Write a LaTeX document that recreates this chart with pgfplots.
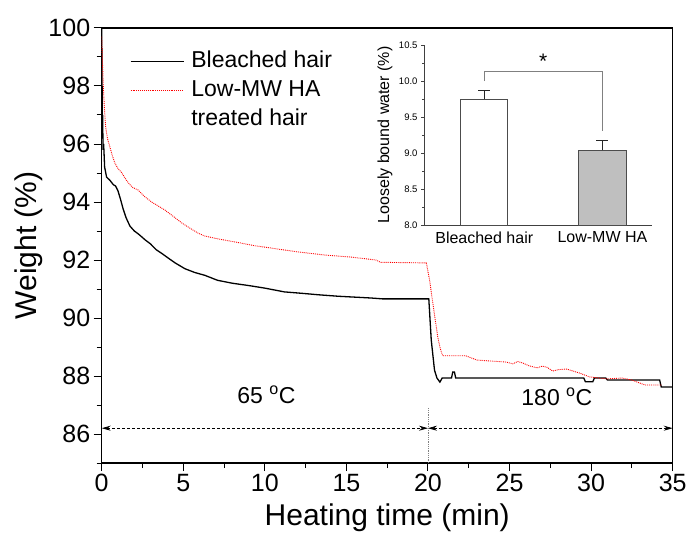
\documentclass[border=0pt]{standalone}
\usepackage{pgfplots}
\pgfplotsset{compat=1.18}
\usepackage{fontspec}
\setmainfont{Liberation Sans}
\usetikzlibrary{arrows.meta}

\begin{document}
\begin{tikzpicture}
\useasboundingbox (-101.7pt,-73pt) rectangle (585.3pt,463pt);
\begin{axis}[
 at={(0pt,0pt)}, anchor=south west,
 scale only axis, width=571pt, height=435pt,
 xmin=0, xmax=35, ymin=85, ymax=100,
 xtick={0,5,...,35}, ytick={86,88,...,100},
 minor xtick={2.5,7.5,...,32.5}, minor ytick={85,87,...,99},
 tick align=outside, xtick pos=lower, ytick pos=left,
 major tick length=8pt, minor tick length=5pt,
 every tick/.style={black, line width=1pt},
 axis line style={line width=1.2pt},
 /pgf/number format/assume math mode=true,
 tick label style={font=\fontsize{25}{25}\selectfont},
 xlabel={Heating time (min)}, ylabel={Weight (\%)},
 label style={font=\fontsize{30}{30}\selectfont},
 x label style={at={(axis description cs:0.5,-0.126)}, anchor=center},
 y label style={at={(axis description cs:-0.128,0.5)}, anchor=center},
 legend style={draw=none, fill=none, at={(0.044,0.953)}, anchor=north west,
   font=\fontsize{23}{23}\selectfont, column sep=7pt, row sep=7pt,
   nodes={inner sep=0pt, text height=17pt, text depth=5pt}},
 legend cell align=left,
 legend image code/.code={\draw[#1] (0pt,0pt) -- (53pt,0pt);},
]
\addplot[black, line width=1.3pt] coordinates {
(0,100) (0.02,98.5) (0.04,96.3) (0.06,97.0) (0.08,95.8) (0.12,96.0) (0.18,95.2)
(0.3,94.86) (0.5,94.75) (0.71,94.6) (0.85,94.55) (1.0,94.38) (1.15,94.1)
(1.32,93.75) (1.5,93.45) (1.73,93.17) (2.0,93.0) (2.24,92.9) (2.45,92.8)
(2.65,92.7) (3.0,92.55) (3.35,92.35) (3.7,92.22) (4.07,92.07) (4.5,91.9)
(5.1,91.7) (5.7,91.57) (6.33,91.47) (7.1,91.3) (8.0,91.2) (9.0,91.12)
(10.0,91.03) (11.2,90.9) (12.3,90.85) (13.3,90.8) (14.5,90.75) (15.5,90.72)
(16.5,90.69) (17.2,90.66) (18,90.66) (20.05,90.66) (20.2,89.24) (20.4,88.2)
(20.55,87.93) (20.73,87.79) (20.87,87.93) (21.44,87.93) (21.52,88.14)
(21.62,88.14) (21.7,87.93) (29.55,87.93) (29.65,87.8) (30.1,87.8) (30.2,87.93)
(30.9,87.93) (31.0,87.86) (34.2,87.86) (34.3,87.62) (35,87.62)
};
\addlegendentry{Bleached hair}
\addplot[red, densely dotted, line width=0.9pt] coordinates {
(0,99.7) (0.05,98.8) (0.1,97.97) (0.17,97.2) (0.24,96.6) (0.35,96.2) (0.5,95.9)
(0.65,95.6) (0.81,95.34) (1.0,95.15) (1.2,95.03) (1.4,94.85) (1.63,94.66)
(1.9,94.5) (2.24,94.41) (2.6,94.2) (3.06,94.0) (3.5,93.85) (3.88,93.72)
(4.4,93.5) (4.9,93.28) (5.4,93.1) (5.9,92.93) (6.3,92.83) (7.2,92.72)
(8.2,92.62) (9.3,92.5) (10.4,92.41) (12,92.28) (13.7,92.17) (15.3,92.1)
(16.8,92.0) (17.1,91.92) (19.9,91.9) (20.1,91.3) (20.35,90.3) (20.6,89.34)
(20.75,88.95) (20.9,88.7) (22.3,88.7) (23.0,88.55) (24.8,88.48) (25.2,88.42)
(25.5,88.5) (25.8,88.45) (26.2,88.35) (26.7,88.28) (27.0,88.34) (27.3,88.3)
(27.65,88.17) (28.0,88.22) (28.5,88.24) (29.3,88.1) (29.9,87.97) (30.95,87.9)
(31.9,87.93) (32.5,87.86) (33.3,87.69) (34.3,87.69)
};
\addlegendentry{Low-MW HA}
\addlegendimage{empty legend}
\addlegendentry{treated hair}
\draw[densely dashed, line width=0.8pt, {Stealth[length=9pt,width=5pt]}-{Stealth[length=9pt,width=5pt]}] (axis cs:0,86.2) -- (axis cs:20,86.2);
\draw[densely dashed, line width=0.8pt, {Stealth[length=9pt,width=5pt]}-{Stealth[length=9pt,width=5pt]}] (axis cs:20,86.2) -- (axis cs:35,86.2);
\draw[gray, densely dotted, line width=0.8pt] (axis cs:20,85) -- (axis cs:20,86.9);
\node[font=\fontsize{23}{23}\selectfont] at (axis cs:10.1,87.35) {65 \textsuperscript{o}C};
\node[font=\fontsize{23}{23}\selectfont] at (axis cs:27.9,87.3) {180 \textsuperscript{o}C};
\end{axis}

\begin{axis}[
 at={(322.3pt,238pt)}, anchor=south west,
 scale only axis, width=228pt, height=180pt,
 xmin=-0.51, xmax=1.42, ymin=8, ymax=10.5,
 axis x line=bottom, axis y line=left,
 axis line style={-, line width=0.7pt, black!75},
 xtick={0,1}, xticklabels={Bleached hair, Low-MW HA},
 major x tick style={draw=none},
 ytick={8,8.5,...,10.5}, minor ytick={8.25,8.75,...,10.25},
 tick align=outside, major tick length=3pt, minor tick length=2pt,
 every tick/.style={black!75, line width=0.6pt},
 /pgf/number format/assume math mode=true,
 y tick label style={font=\fontsize{9.5}{9.5}\selectfont, /pgf/number format/.cd, fixed, fixed zerofill, precision=1},
 x tick label style={font=\fontsize{16}{16}\selectfont},
 ylabel={Loosely bound water (\%)},
 y label style={font=\fontsize{16}{16}\selectfont, at={(axis description cs:-0.171,0.5)}, anchor=center},
]
\addplot[ybar, bar width=0.40, bar shift=0pt, draw=black!70, line width=1pt, fill=white,
  error bars/.cd, y dir=plus, y explicit,
  error bar style={line width=1pt, black!85}, error mark options={rotate=90, mark size=6pt, line width=1pt, black!85}]
  coordinates {(0,9.75) +- (0,0.12)};
\addplot[ybar, bar width=0.40, bar shift=0pt, draw=black!70, line width=1pt, fill=black!25,
  error bars/.cd, y dir=plus, y explicit,
  error bar style={line width=1pt, black!85}, error mark options={rotate=90, mark size=6pt, line width=1pt, black!85}]
  coordinates {(1,9.04) +- (0,0.13)};
\draw[black!50, line width=0.6pt] (axis cs:0,10.0) -- (axis cs:0,10.13) -- (axis cs:1,10.13) -- (axis cs:1,9.3);
\node[font=\fontsize{21}{21}\selectfont] at (axis cs:0.5,10.27) {*};
\end{axis}
\end{tikzpicture}
\end{document}
